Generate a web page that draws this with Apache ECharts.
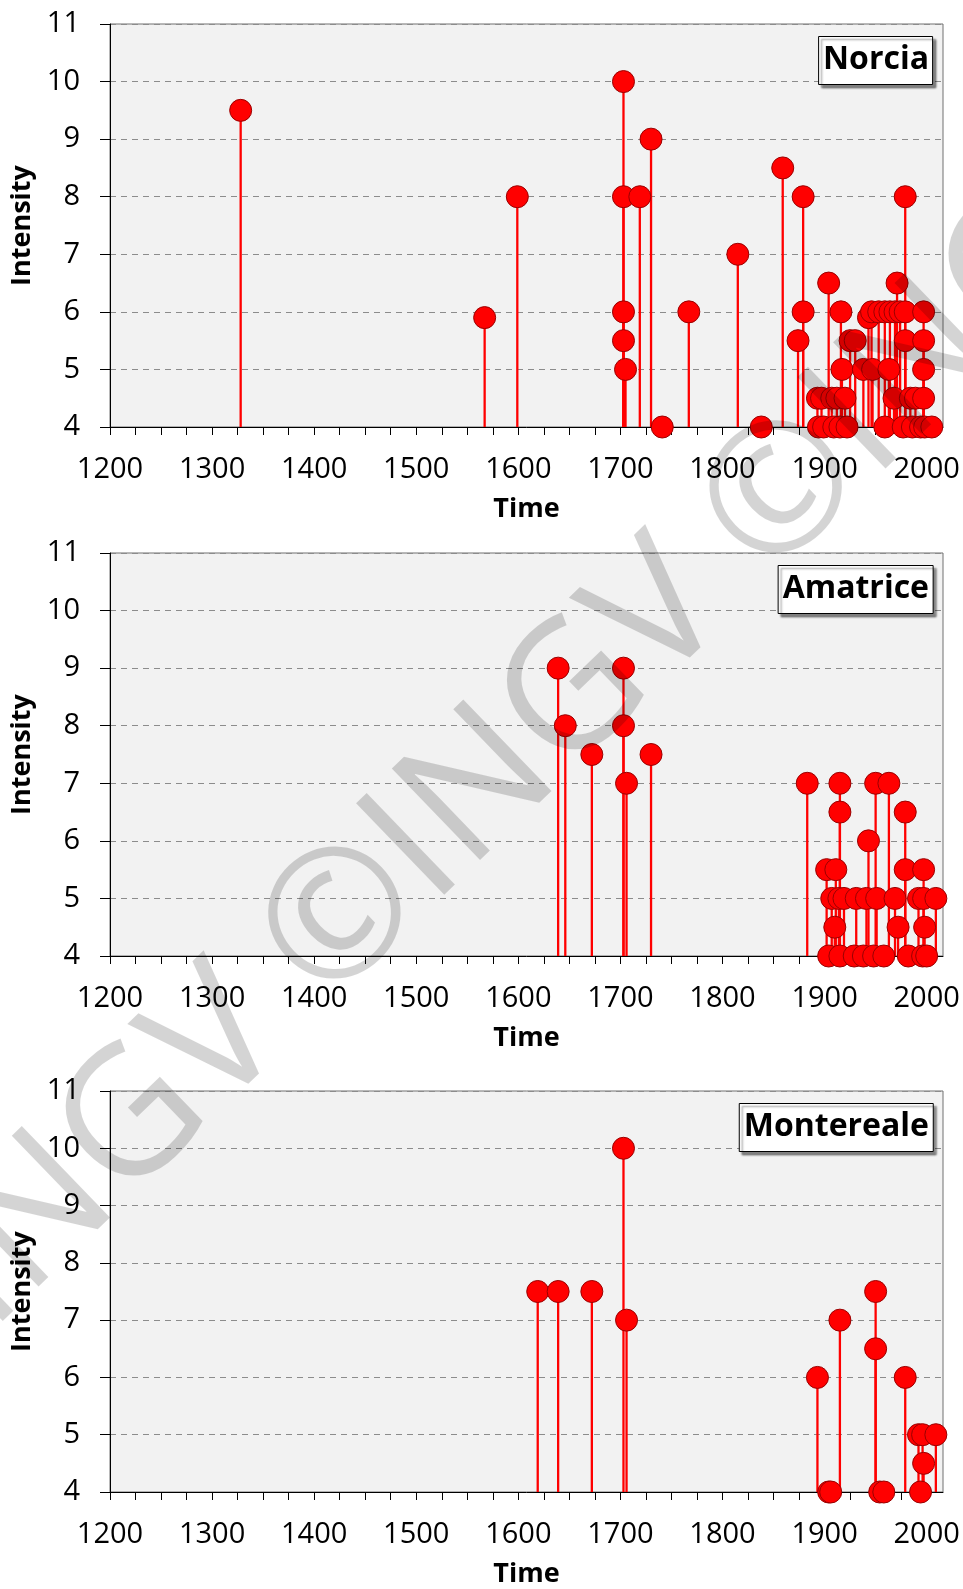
<!DOCTYPE html>
<html>
<head>
<meta charset="utf-8">
<script src="https://cdn.jsdelivr.net/npm/echarts@6/dist/echarts.min.js"></script>
<style>
html,body{margin:0;padding:0;background:#fff;}
#c{width:963px;height:1589px;}
</style>
</head>
<body>
<div id="c"></div>
<script>
// ---- data (year, intensity) ----
const panelNames = ['Norcia', 'Amatrice', 'Montereale'];
const yTicks = [4, 5, 6, 7, 8, 9, 10, 11];
const xTickLabels = [1200, 1300, 1400, 1500, 1600, 1700, 1800, 1900, 2000];

const norciaYears = [1328, 1567, 1599, 1703, 1703, 1703, 1703, 1705, 1719, 1730, 1741, 1767, 1815, 1838, 1859, 1874, 1879, 1879,
  1893, 1894, 1897, 1899, 1904, 1907, 1909, 1912, 1915, 1916, 1917, 1920, 1922, 1925, 1930, 1938, 1943, 1946, 1947, 1953,
  1959, 1959, 1963, 1964, 1968, 1969, 1971, 1974, 1977, 1979, 1979, 1979, 1984, 1986, 1989, 1994, 1997, 1997, 1997, 1997, 1998, 2005];
const norciaValues = [9.5, 5.9, 8, 10, 8, 6, 5.5, 5, 8, 9, 4, 6, 7, 4, 8.5, 5.5, 8, 6,
  4.5, 4, 4.5, 4, 6.5, 4.5, 4, 4.5, 4, 6, 5, 4.5, 4, 5.5, 5.5, 5, 5.9, 6, 5, 6,
  6, 4, 5, 6, 4.5, 6, 6.5, 6, 4, 8, 6, 5.5, 4.5, 4, 4.5, 4, 6, 5.5, 5, 4.5, 4, 4];

const amatriceYears = [1639, 1646, 1672, 1703, 1703, 1706, 1730, 1883, 1902, 1904, 1907, 1910, 1911, 1914, 1915, 1915, 1915,
  1919, 1929, 1931, 1938, 1941, 1943, 1948, 1950, 1951, 1958, 1963, 1969, 1972, 1979, 1979, 1982, 1992, 1996, 1997, 1997, 1998, 2000, 2009];
const amatriceValues = [9, 8, 7.5, 9, 8, 7, 7.5, 7, 5.5, 4, 5, 4.5, 5.5, 5, 7, 6.5, 4,
  5, 4, 5, 4, 5, 6, 4, 7, 5, 4, 7, 5, 4.5, 6.5, 5.5, 4, 5, 4, 5.5, 5, 4.5, 4, 5];

const monterealeYears = [1619, 1639, 1672, 1703, 1706, 1893, 1904, 1906, 1915, 1950, 1950, 1954, 1958, 1979, 1992, 1994, 1996, 1997, 2009];
const monterealeValues = [7.5, 7.5, 7.5, 10, 7, 6, 4, 4, 7, 7.5, 6.5, 4, 4, 6, 5, 4, 5, 4.5, 5];

const panelYears = [norciaYears, amatriceYears, monterealeYears];
const panelValues = [norciaValues, amatriceValues, monterealeValues];

// ---- layout ----
const FONT = 'Open Sans';
const gridTops = [24, 553, 1091];
const gridH = 403;
const yMin = 4, yMax = 11, xMin = 1200, xMax = 2016;

const chart = echarts.init(document.getElementById('c'), null, {renderer: 'canvas'});

const grids = [], xAxes = [], yAxes = [], series = [], titles = [];
panelNames.forEach((name, i) => {
  grids.push({
    left: 110, right: 20, top: gridTops[i], height: gridH,
    show: true, backgroundColor: '#f2f2f2', borderColor: '#707070', borderWidth: 1
  });
  xAxes.push({
    type: 'value', gridIndex: i, min: xMin, max: xMax, interval: 25,
    name: 'Time', nameLocation: 'middle', nameGap: 69,
    nameTextStyle: {fontFamily: FONT, fontSize: 27, fontWeight: 'bold', color: '#000'},
    axisLine: {show: true, lineStyle: {color: '#000', width: 1}},
    axisTick: {show: true, inside: false, length: 8, lineStyle: {color: '#000'}},
    axisLabel: {
      fontFamily: FONT, fontSize: 29, color: '#000', margin: 28,
      showMaxLabel: false,
      formatter: v => (xTickLabels.indexOf(v) >= 0 ? String(v) : '')
    },
    splitLine: {show: false}
  });
  yAxes.push({
    type: 'value', gridIndex: i, min: yMin, max: yMax, interval: 1,
    name: 'Intensity', nameLocation: 'middle', nameGap: 66, nameRotate: 90,
    nameTextStyle: {fontFamily: FONT, fontSize: 27, fontWeight: 'bold', color: '#000'},
    axisLine: {show: true, lineStyle: {color: '#000', width: 1}},
    axisTick: {show: true, inside: false, length: 10, lineStyle: {color: '#000'}},
    axisLabel: {fontFamily: FONT, fontSize: 29, color: '#000', margin: 30,
      formatter: v => (yTicks.indexOf(v) >= 0 ? String(v) : '')},
    splitLine: {show: true, lineStyle: {color: '#8c8c8c', type: [6, 5], width: 1}}
  });
  const pts = panelYears[i].map((y, k) => [y, panelValues[i][k]]);
  series.push({
    type: 'custom', xAxisIndex: i, yAxisIndex: i, data: pts, clip: false, z: 2,
    encode: {x: 0, y: 1},
    renderItem: (params, api) => {
      const x = api.value(0), v = api.value(1);
      const top = api.coord([x, v]);
      const base = api.coord([x, yMin]);
      return {type: 'line', shape: {x1: base[0], y1: base[1], x2: top[0], y2: top[1]},
        style: {stroke: '#ff0000', lineWidth: 2.3}};
    }
  });
  series.push({
    type: 'scatter', xAxisIndex: i, yAxisIndex: i, data: pts, z: 3,
    symbol: 'circle', symbolSize: 22,
    itemStyle: {color: '#ff0000', borderColor: '#9a0000', borderWidth: 1, opacity: 1},
    emphasis: {disabled: true}
  });
  titles.push({
    text: name, right: 30, top: gridTops[i] + 12,
    textStyle: {fontFamily: FONT, fontSize: 32, fontWeight: 'bold', color: '#000'},
    backgroundColor: '#fff', borderColor: '#000', borderWidth: 1,
    padding: [8, 4, 9, 5],
    shadowColor: 'rgba(0,0,0,0.45)', shadowBlur: 2, shadowOffsetX: 3, shadowOffsetY: 3
  });
});

chart.setOption({
  animation: false,
  backgroundColor: '#ffffff',
  title: titles,
  grid: grids,
  xAxis: xAxes,
  yAxis: yAxes,
  series: series,
  graphic: [{
    type: 'text', x: 494, y: 776, rotation: 44 * Math.PI / 180, z: 100, silent: true,
    style: {text: '©INGV ©INGV ©INGV', font: '178px "Open Sans"', fill: 'rgba(0,0,0,0.17)',
      align: 'center', verticalAlign: 'middle'}
  }]
});
</script>
</body>
</html>
